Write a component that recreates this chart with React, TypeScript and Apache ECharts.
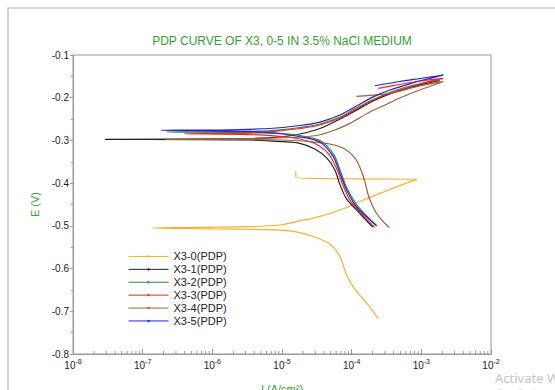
import React, { useEffect, useRef } from "react";
import * as echarts from "echarts";

type Pt = [number, number];

const TITLE = "PDP CURVE OF X3, 0-5 IN 3.5% NaCl MEDIUM";
const SERIES_NAMES = ["X3-0(PDP)", "X3-1(PDP)", "X3-2(PDP)", "X3-3(PDP)", "X3-4(PDP)", "X3-5(PDP)"];
const SERIES_COLORS = ["#f8b02c", "#222222", "#2e8b3e", "#ff2222", "#a0603a", "#2222dd"];

// [current density (A/cm2), potential (V)]
const X3_0: Pt[] = [
  [2.4e-4, -0.717], [1.64e-4, -0.681], [1.17e-4, -0.653], [8.45e-5, -0.615], [6.8e-5, -0.572],
  [4.9e-5, -0.543], [2.8e-5, -0.525], [1.6e-5, -0.514], [9.3e-6, -0.51], [3.5e-6, -0.508],
  [9.9e-7, -0.507], [3.4e-7, -0.506], [1.4e-7, -0.505],
  [3.4e-7, -0.504], [3.2e-6, -0.502], [9.3e-6, -0.498], [1.6e-5, -0.49], [2.8e-5, -0.482],
  [4.9e-5, -0.471], [8.45e-5, -0.457], [1.45e-4, -0.44], [2.54e-4, -0.424], [6.1e-4, -0.4],
  [8.8e-4, -0.391],
  [1.31e-4, -0.39], [1.58e-5, -0.387], [1.58e-5, -0.372],
];
const X3_1: Pt[] = [
  [2.01e-4, -0.503], [1.31e-4, -0.471], [8.45e-5, -0.437], [6.8e-5, -0.404], [5.74e-5, -0.369],
  [4.37e-5, -0.341], [2.96e-5, -0.32], [1.8e-5, -0.3068], [1.03e-5, -0.303], [3.46e-6, -0.299],
  [2.9e-8, -0.2974],
  [3.46e-6, -0.2955], [1.03e-5, -0.2909], [1.8e-5, -0.285], [3.5e-5, -0.272], [6.8e-5, -0.25],
  [1.17e-4, -0.229], [2.04e-4, -0.2077], [3.53e-4, -0.191], [6.1e-4, -0.1785], [1.06e-3, -0.168],
  [1.84e-3, -0.16],
];
const X3_2: Pt[] = [
  [2.28e-4, -0.499], [1.82e-4, -0.484], [1.19e-4, -0.4513], [8.53e-5, -0.4115], [6.89e-5, -0.3717],
  [5.56e-5, -0.334], [3.61e-5, -0.3014], [1.8e-5, -0.2885], [1.03e-5, -0.2838], [3.46e-6, -0.2815],
  [2.2e-7, -0.2803],
  [3.46e-6, -0.279], [1.03e-5, -0.2745], [1.8e-5, -0.2698], [3.5e-5, -0.2616], [6.8e-5, -0.2452],
  [1.17e-4, -0.2241], [2.04e-4, -0.2042], [3.53e-4, -0.1878], [6.1e-4, -0.175], [1.06e-3, -0.1656],
  [1.84e-3, -0.1585],
];
const X3_3: Pt[] = [
  [2.15e-4, -0.5035], [1.4e-4, -0.4724], [9.42e-5, -0.4396], [7.48e-5, -0.4044], [6.03e-5, -0.3646],
  [4.56e-5, -0.3295], [2.96e-5, -0.3073], [1.8e-5, -0.2967], [1.03e-5, -0.2909], [3.46e-6, -0.2862],
  [4.0e-7, -0.2843],
  [3.46e-6, -0.2827], [1.03e-5, -0.2768], [1.8e-5, -0.2721], [3.5e-5, -0.2639], [6.8e-5, -0.2475],
  [1.17e-4, -0.2265], [2.04e-4, -0.2054], [3.53e-4, -0.189], [6.1e-4, -0.1773], [1.06e-3, -0.1656],
  [2.06e-3, -0.1546],
  [9.5e-4, -0.1609], [4.9e-4, -0.169], [2.4e-4, -0.178],
];
const X3_4: Pt[] = [
  [3.46e-4, -0.504], [2.8e-4, -0.489], [2.22e-4, -0.468], [1.77e-4, -0.433], [1.55e-4, -0.397],
  [1.36e-4, -0.369], [1.11e-4, -0.341], [7.98e-5, -0.32], [4.86e-5, -0.3084], [2.51e-5, -0.3026],
  [9.3e-6, -0.299], [3.46e-6, -0.298], [2.1e-7, -0.2974],
  [3.46e-6, -0.2955], [1.3e-5, -0.2932], [3.13e-5, -0.2885], [5.74e-5, -0.2756], [9.42e-5, -0.26],
  [1.82e-4, -0.2335], [2.8e-4, -0.2194], [4.9e-4, -0.2007], [9.5e-4, -0.182], [2.06e-3, -0.1625],
  [9.5e-4, -0.1726], [3.53e-4, -0.1897], [1.17e-4, -0.197],
];
const X3_5: Pt[] = [
  [2.28e-4, -0.5], [1.82e-4, -0.486], [1.17e-4, -0.455], [8.45e-5, -0.416], [6.8e-5, -0.377],
  [5.43e-5, -0.338], [3.5e-5, -0.3037], [1.8e-5, -0.2913], [1.03e-5, -0.285], [3.46e-6, -0.279],
  [1.83e-7, -0.2763],
  [1.29e-6, -0.2756], [6.7e-6, -0.2721], [1.8e-5, -0.265], [3.5e-5, -0.257], [6.8e-5, -0.2405],
  [1.17e-4, -0.2194], [2.04e-4, -0.198], [3.53e-4, -0.182], [6.1e-4, -0.17], [1.06e-3, -0.1585],
  [2.06e-3, -0.147],
  [9.6e-4, -0.155], [4.9e-4, -0.162], [2.15e-4, -0.172],
];
const SERIES_DATA = [X3_0, X3_1, X3_2, X3_3, X3_4, X3_5];

const X_MIN = 1e-8;
const X_MAX = 1e-2;
const Y_MIN = -0.8;
const Y_MAX = -0.1;
const Y_STEP = 0.1;
const DECADES = [-8, -7, -6, -5, -4, -3];
const MINOR_MULT = [2, 3, 4, 5, 6, 7, 8, 9];

const FONT = "'Liberation Sans', Arial, sans-serif";
const GREEN = "#33a033";

export default function App() {
  const ref = useRef<HTMLDivElement>(null);
  useEffect(() => {
    if (!ref.current) return;
    const chart = echarts.init(ref.current, null, { renderer: "svg" });
    const minorTicks: number[] = [];
    DECADES.forEach((d) => MINOR_MULT.forEach((m) => minorTicks.push(m * Math.pow(10, d))));

    const lineSeries = SERIES_NAMES.map((name, i) => ({
      name,
      type: "line",
      data: SERIES_DATA[i],
      showSymbol: false,
      symbol: "circle",
      symbolSize: 2,
      lineStyle: { width: 1.2, color: SERIES_COLORS[i] },
      itemStyle: { color: SERIES_COLORS[i] },
      smooth: 0.3,
      z: 3 + i,
    }));

    chart.setOption({
      animation: false,
      backgroundColor: "#ffffff",
      textStyle: { fontFamily: FONT },
      title: {
        text: TITLE,
        left: 277,
        textAlign: "center",
        top: 30,
        textStyle: { fontSize: 12, fontWeight: "normal", color: GREEN, fontFamily: FONT },
      },
      grid: {
        left: 73,
        right: 64,
        top: 55,
        bottom: 36,
        show: true,
        borderColor: "#9a9a9a",
        borderWidth: 1,
        containLabel: false,
        outerBoundsMode: "none",
      },
      legend: {
        orient: "vertical",
        left: 123,
        top: 245,
        itemWidth: 40,
        itemHeight: 3,
        itemGap: 0,
        data: SERIES_NAMES,
        lineStyle: { width: 1 },
        textStyle: { fontSize: 11, color: "#222", fontFamily: FONT, lineHeight: 12.9 },
      },
      xAxis: {
        type: "log",
        logBase: 10,
        min: X_MIN,
        max: X_MAX,
        splitNumber: 6,
        name: "I (A/cm²)",
        nameLocation: "middle",
        nameGap: 29,
        nameTextStyle: { color: GREEN, fontSize: 11, fontFamily: FONT },
        axisLine: { lineStyle: { color: "#9a9a9a" } },
        axisTick: { inside: true, length: 5, lineStyle: { color: "#9a9a9a" } },
        splitLine: { show: false },
        axisLabel: {
          margin: 4,
          color: "#222",
          formatter: (v: number) => "{b|10}{s|" + Math.round(Math.log10(v)) + "}",
          rich: {
            b: { fontSize: 10, fontFamily: FONT, color: "#222" },
            s: { fontSize: 7, fontFamily: FONT, color: "#222", padding: [0, 0, 7, 0] },
          },
        },
      },
      yAxis: {
        type: "value",
        min: Y_MIN,
        max: Y_MAX,
        interval: Y_STEP,
        name: "E (V)",
        nameLocation: "middle",
        nameGap: 17,
        nameTextStyle: { color: GREEN, fontSize: 11, fontFamily: FONT },
        axisLine: { show: true, lineStyle: { color: "#9a9a9a" } },
        axisTick: { show: true, length: 3, lineStyle: { color: "#9a9a9a" } },
        minorTick: { show: true, splitNumber: 2, length: 2, lineStyle: { color: "#9a9a9a" } },
        splitLine: { show: false },
        axisLabel: {
          margin: 4,
          fontSize: 10,
          color: "#222",
          formatter: (v: number) => v.toFixed(1),
        },
      },
      graphic: [
        {
          type: "rect",
          shape: { x: 8, y: 8, width: 640, height: 440 },
          style: { fill: "none", stroke: "#b4b4b4", lineWidth: 1.2 },
          silent: true,
        },
        {
          type: "text",
          left: 495,
          top: 371,
          style: { text: "Activate Windows", fill: "#c4c4c4", fontSize: 13, fontFamily: "'Noto Sans', sans-serif" },
          silent: true,
        },
        {
          type: "text",
          left: 496,
          top: 388,
          style: { text: "Go to Settings to activate Windows.", fill: "#cccccc", fontSize: 8, fontFamily: "'Noto Sans', sans-serif" },
          silent: true,
        },
      ],
      series: [
        ...lineSeries,
        {
          type: "custom",
          name: "minorTicks",
          data: minorTicks.map((v) => [v, Y_MIN]),
          clip: false,
          silent: true,
          z: 1,
          renderItem: (_p: any, api: any) => {
            const pt = api.coord([api.value(0), api.value(1)]);
            return {
              type: "line",
              shape: { x1: pt[0], y1: pt[1], x2: pt[0], y2: pt[1] - 3 },
              style: { stroke: "#9a9a9a", lineWidth: 1 },
            };
          },
        },
      ],
    });
    return () => chart.dispose();
  }, []);
  return <div ref={ref} style={{ position: "fixed", left: 0, top: 0, width: 555, height: 390 }} />;
}
